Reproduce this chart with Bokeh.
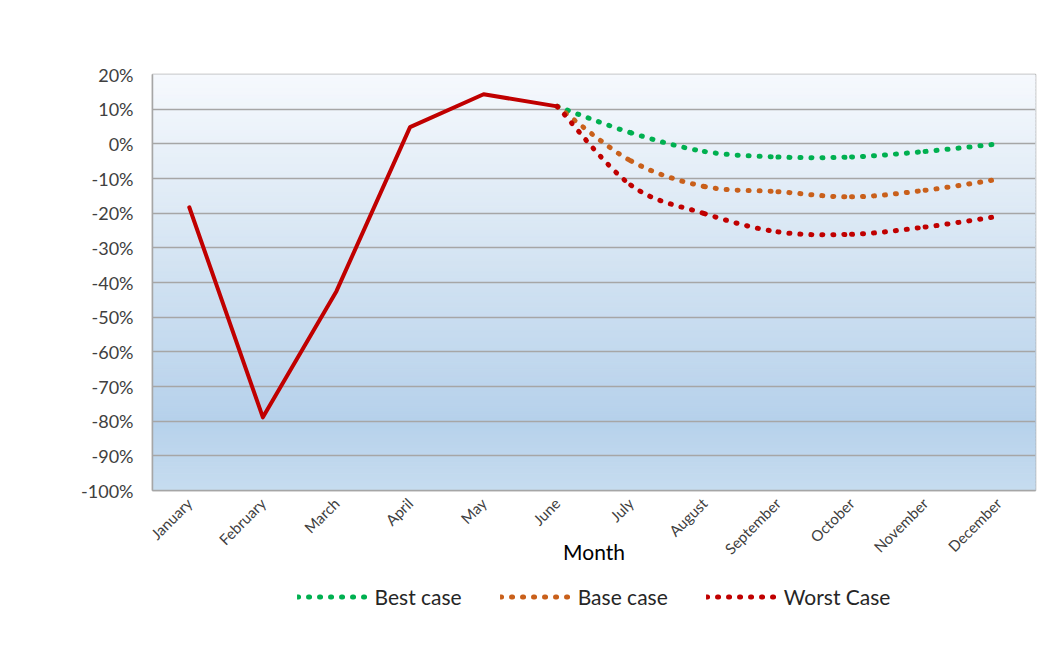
import math
from bokeh.plotting import figure
from bokeh.layouts import column
from bokeh.models import (FixedTicker, PrintfTickFormatter, Legend, LegendItem,
                          ColumnDataSource)
from bokeh.embed import file_html
from bokeh.resources import INLINE

# ---------------- data ----------------
months = ["January", "February", "March", "April", "May", "June",
          "July", "August", "September", "October", "November", "December"]
actual = [-18.3, -78.9, -42.5, 4.8, 14.3, 10.8]          # Jan..June
forecast_months = months[5:]                              # June..December
best_case = [10.8, 3.2, -2.2, -3.8, -3.8, -2.2, 0.0]
base_case = [10.8, -4.9, -12.3, -13.8, -15.3, -13.4, -10.2]
worst_case = [10.8, -11.9, -20.1, -25.4, -26.1, -24.0, -20.9]
y_ticks = [-100, -90, -80, -70, -60, -50, -40, -30, -20, -10, 0, 10, 20]

FONT = "Lato"
pos = {m: i + 0.5 for i, m in enumerate(months)}

p = figure(frame_width=883, frame_height=416, x_range=(0, 12), y_range=(-100, 20),
           output_backend="svg", toolbar_location=None,
           min_border_left=152, min_border_top=74, min_border_right=8,
           min_border_bottom=86)
p.background_fill_color = "white"
p.border_fill_color = "white"
p.outline_line_color = "#A6A6A6"
p.outline_line_width = 1.5

# ---------------- gradient background (styling) ----------------
def hex2rgb(h):
    return tuple(int(h[i:i + 2], 16) for i in (1, 3, 5))

stops = [(0.0, "#F6F9FD"), (0.42, "#D6E5F3"), (0.83, "#B6D1EB"), (1.0, "#C6DCEF")]
ymin, ymax = p.y_range.start, p.y_range.end
nb = 120
bt, bb, bc = [], [], []
for k in range(nb):
    f = (k + 0.5) / nb
    for j in range(len(stops) - 1):
        if stops[j][0] <= f <= stops[j + 1][0]:
            t = (f - stops[j][0]) / (stops[j + 1][0] - stops[j][0])
            a, b = hex2rgb(stops[j][1]), hex2rgb(stops[j + 1][1])
            c = tuple(round(a[i] + (b[i] - a[i]) * t) for i in range(3))
            break
    top = ymax - (ymax - ymin) * k / nb
    bot = ymax - (ymax - ymin) * (k + 1) / nb
    bt.append(top); bb.append(bot); bc.append("#%02x%02x%02x" % c)
p.quad(left=0, right=12, top=bt, bottom=bb, fill_color=bc, line_color=bc,
       line_width=1, level="image")

# ---------------- axes & grid ----------------
p.xgrid.visible = False
p.ygrid.ticker = FixedTicker(ticks=y_ticks)
p.ygrid.grid_line_color = "#A6A6A6"
p.ygrid.grid_line_width = 1.5
p.ygrid.level = "underlay"

p.yaxis.ticker = FixedTicker(ticks=y_ticks)
p.yaxis.formatter = PrintfTickFormatter(format="%d%%")
p.xaxis.ticker = FixedTicker(ticks=[pos[m] for m in months])
p.xaxis.major_label_overrides = {pos[m]: m for m in months}
p.xaxis.major_label_orientation = math.pi / 4

for ax in (p.xaxis, p.yaxis):
    ax.axis_line_color = "#A6A6A6"
    ax.axis_line_width = 1.5
    ax.major_tick_line_color = None
    ax.minor_tick_line_color = None
    ax.major_tick_out = 0
    ax.major_tick_in = 0
    ax.major_label_text_font = FONT
    ax.major_label_text_color = "#404040"
p.yaxis.major_label_text_font_size = "18px"
p.yaxis.major_label_standoff = 19
p.xaxis.major_label_text_font_size = "15px"
p.xaxis.major_label_standoff = 10

p.xaxis.axis_label = "Month"
p.xaxis.axis_label_text_font = FONT
p.xaxis.axis_label_text_font_size = "21px"
p.xaxis.axis_label_text_font_style = "normal"
p.xaxis.axis_label_text_color = "black"
p.xaxis.axis_label_standoff = -28

# ---------------- smoothed forecast curves ----------------
def smooth_source(xs, ys):
    n = len(xs)
    pts = list(zip(xs, ys))
    d = dict(x0=[], y0=[], x1=[], y1=[], cx0=[], cy0=[], cx1=[], cy1=[])
    for i in range(n - 1):
        p0 = pts[i - 1] if i > 0 else pts[i]
        p1 = pts[i]
        p2 = pts[i + 1]
        p3 = pts[i + 2] if i + 2 < n else pts[i + 1]
        d["x0"].append(p1[0]); d["y0"].append(p1[1])
        d["x1"].append(p2[0]); d["y1"].append(p2[1])
        d["cx0"].append(p1[0] + (p2[0] - p0[0]) / 6)
        d["cy0"].append(p1[1] + (p2[1] - p0[1]) / 6)
        d["cx1"].append(p2[0] - (p3[0] - p1[0]) / 6)
        d["cy1"].append(p2[1] - (p3[1] - p1[1]) / 6)
    return ColumnDataSource(d)

# legend strip as a second figure below the chart
lg = figure(frame_width=883, frame_height=40, x_range=(0, 1), y_range=(0, 1),
            output_backend="svg", toolbar_location=None,
            min_border_left=152, min_border_right=8, min_border_top=0,
            min_border_bottom=0)
lg.axis.visible = False
lg.grid.visible = False
lg.outline_line_color = None
lg.background_fill_color = "white"
lg.border_fill_color = "white"

fx = [pos[m] for m in forecast_months]
series = [("Best case", best_case, "#00B050"),
          ("Base case", base_case, "#C9601B"),
          ("Worst Case", worst_case, "#C00000")]
DASH = "1 10"
items = []
for name, ys, col in series:
    src = smooth_source(fx, ys)
    p.bezier(x0="x0", y0="y0", x1="x1", y1="y1", cx0="cx0", cy0="cy0",
             cx1="cx1", cy1="cy1", source=src, line_color=col, line_width=5,
             line_dash=DASH, line_cap="round")
    lr = lg.line(x=[0.5], y=[0.5], line_color=col, line_width=5,
                 line_dash=DASH, line_cap="round")
    items.append(LegendItem(label=name, renderers=[lr]))

# ---------------- actual line ----------------
p.line(x=[pos[m] for m in months[:6]], y=actual, line_color="#C00000",
       line_width=4, line_join="round", line_cap="round")

# ---------------- legend ----------------
legend = Legend(items=items, orientation="horizontal", location="center",
                glyph_width=70, glyph_height=20, label_standoff=8, spacing=38,
                label_text_font=FONT, label_text_font_size="21px",
                label_text_color="#262626", border_line_color=None,
                background_fill_alpha=0, padding=0, margin=0)
lg.add_layout(legend, "center")

layout = column(p, lg, spacing=0)
open("out.html", "w").write(file_html(layout, INLINE))
